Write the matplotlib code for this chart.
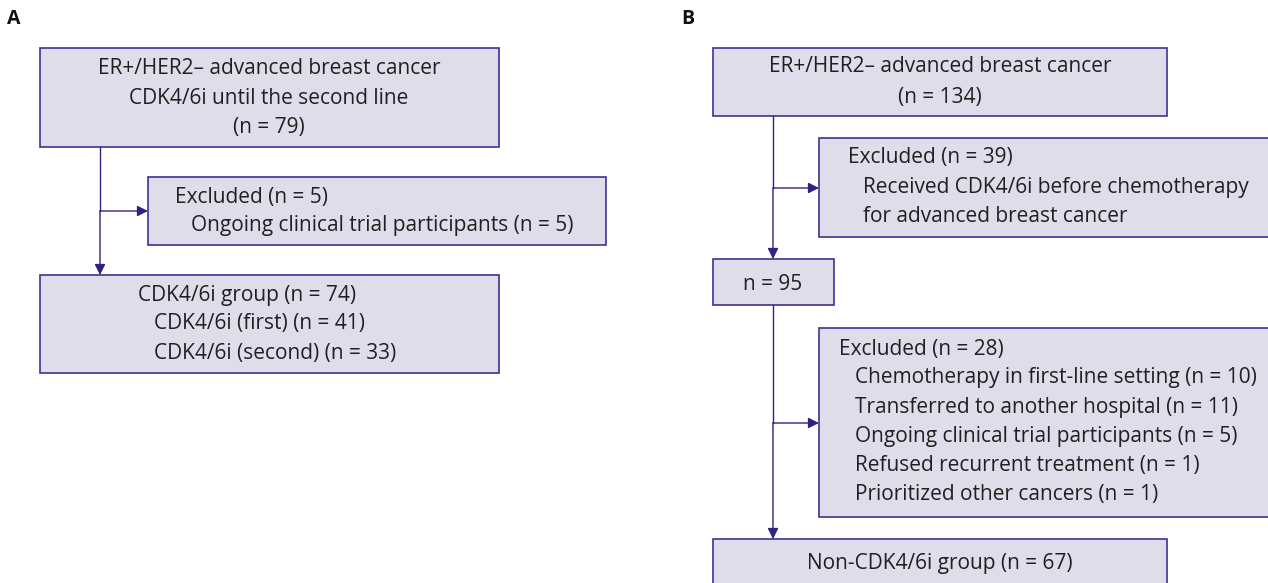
import matplotlib.pyplot as plt
from matplotlib.patches import Rectangle

# counts
a_total = 79
a_excluded = 5
a_trial = 5
a_group = 74
a_first = 41
a_second = 33

b_total = 134
b_excl_first = 39
b_after = 95
b_excl_second = 28
b_reasons = ['Chemotherapy in first-line setting', 'Transferred to another hospital',
             'Ongoing clinical trial participants', 'Refused recurrent treatment',
             'Prioritized other cancers']
b_reason_n = [10, 11, 5, 1, 1]
b_group = 67

FILL = '#dedde9'
EDGE = '#3b3391'
LINE = '#2c2383'
TXT = '#231f20'
FS = 15

plt.rcParams['font.family'] = ['Open Sans', 'DejaVu Sans']

fig = plt.figure(figsize=(12.68, 5.83), dpi=100)
ax = fig.add_axes([0, 0, 1, 1])
ax.set_xlim(0, 1268)
ax.set_ylim(583, 0)
ax.axis('off')


def box(x0, y0, x1, y1):
    ax.add_patch(Rectangle((x0, y0), x1 - x0, y1 - y0, facecolor=FILL,
                           edgecolor=EDGE, linewidth=1.2, clip_on=True))


def txt(x, y, s, ha='center'):
    ax.text(x, y, s, ha=ha, va='center', fontsize=FS, color=TXT)


def arrow(x0, y0, x1, y1):
    ax.annotate('', xy=(x1, y1), xytext=(x0, y0),
                arrowprops=dict(arrowstyle='-|>', color=LINE, lw=1.0,
                                mutation_scale=16, shrinkA=0, shrinkB=0))


# panel labels
ax.text(7, 19, 'A', fontsize=14, fontweight='bold', va='center', color='#111111')
ax.text(681, 19, 'B', fontsize=14, fontweight='bold', va='center', color='#111111')

# ---- panel A ----
ax.plot([100, 100], [147, 211], color=LINE, lw=1.0)
arrow(100, 211, 100, 275)
arrow(100, 211, 148, 211)

box(40, 48, 499, 147)
txt(269, 68, 'ER+/HER2\u2013 advanced breast cancer')
txt(269, 98, 'CDK4/6i until the second line')
txt(269, 127, f'(n = {a_total})')

box(148, 177, 606, 245)
txt(175, 197, f'Excluded (n = {a_excluded})', ha='left')
txt(191, 226, f'Ongoing clinical trial participants (n = {a_trial})', ha='left')

box(40, 275, 499, 373)
txt(138, 295, f'CDK4/6i group (n = {a_group})', ha='left')
txt(154, 324, f'CDK4/6i (first) (n = {a_first})', ha='left')
txt(154, 353, f'CDK4/6i (second) (n = {a_second})', ha='left')

# ---- panel B ----
ax.plot([773, 773], [116, 188], color=LINE, lw=1.0)
arrow(773, 188, 773, 259)
arrow(773, 188, 819, 188)
ax.plot([773, 773], [305, 423], color=LINE, lw=1.0)
arrow(773, 423, 773, 539)
arrow(773, 423, 819, 423)

box(713, 48, 1167, 116)
txt(940, 67, 'ER+/HER2\u2013 advanced breast cancer')
txt(940, 97, f'(n = {b_total})')

box(819, 138, 1275, 237)
txt(848, 158, f'Excluded (n = {b_excl_first})', ha='left')
txt(863, 188, 'Received CDK4/6i before chemotherapy', ha='left')
txt(863, 217, 'for advanced breast cancer', ha='left')

box(713, 259, 834, 305)
txt(773, 284, f'n = {b_after}')

box(819, 328, 1275, 517)
txt(839, 349, f'Excluded (n = {b_excl_second})', ha='left')
for i, (reason, n) in enumerate(zip(b_reasons, b_reason_n)):
    txt(855, 378 + i * 29.2, f'{reason} (n = {n})', ha='left')

box(713, 539, 1167, 600)
txt(940, 563, f'Non-CDK4/6i group (n = {b_group})')

fig.savefig('out.png', dpi=100)
